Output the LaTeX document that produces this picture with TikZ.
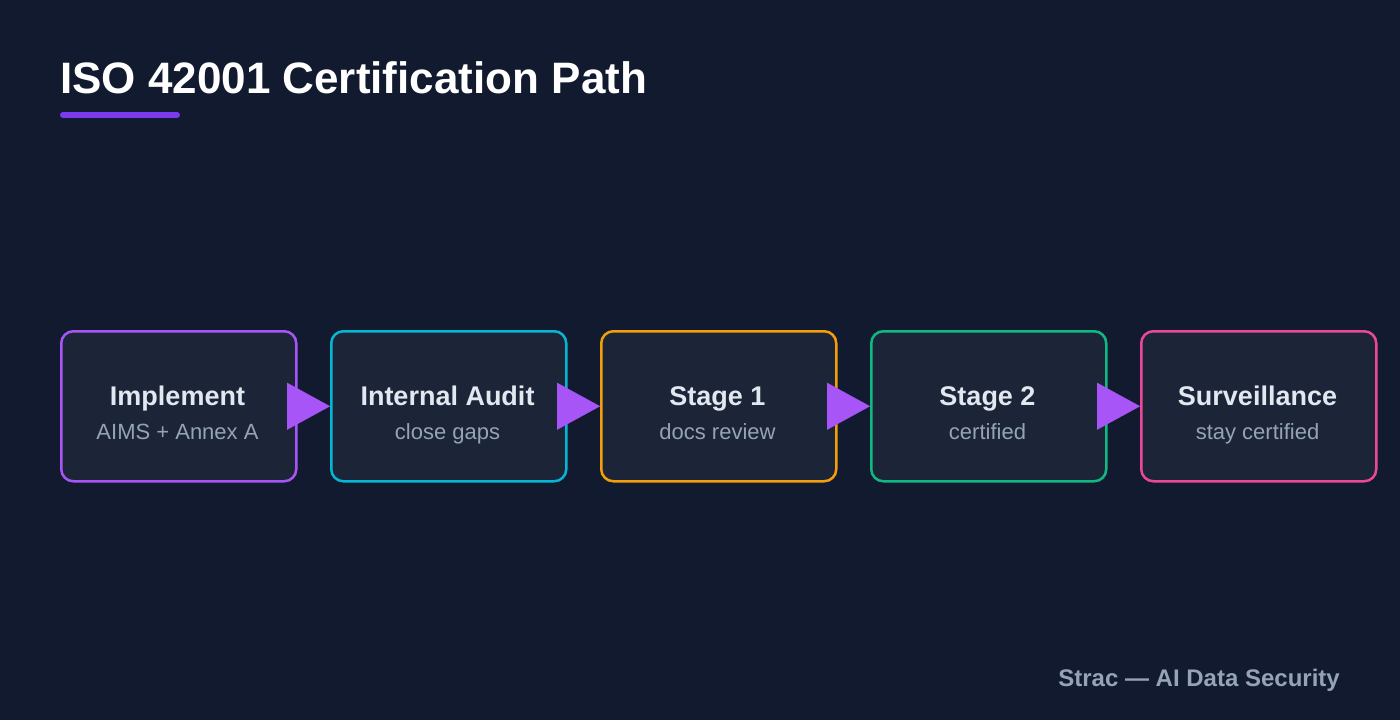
\documentclass[tikz,border=0pt]{standalone}
\usepackage{fontspec}
\setmainfont{Liberation Sans}
\usetikzlibrary{arrows.meta}
\definecolor{bg}{HTML}{111A2E}
\definecolor{boxfill}{HTML}{1C2537}
\definecolor{cP}{HTML}{A855F7}
\definecolor{cC}{HTML}{06B6D4}
\definecolor{cA}{HTML}{F59E0B}
\definecolor{cG}{HTML}{10B981}
\definecolor{cK}{HTML}{EC4899}
\definecolor{bar}{HTML}{7C3AED}
\definecolor{ttl}{HTML}{E2E8F0}
\definecolor{sub}{HTML}{94A3B8}
\begin{document}
\begin{tikzpicture}[x=1pt,y=-1pt,
  step/.style={draw=#1,line width=2.5pt,fill=boxfill,rounded corners=12pt,minimum width=235pt,minimum height=150pt,inner sep=0pt,anchor=north west},
  flow/.style={draw=cP,line width=0.1pt,-{Triangle[length=43pt,width=47pt]},fill=cP}]
\fill[bg] (0,0) rectangle (1400,720);
\useasboundingbox (0,0) rectangle (1400,720);
\node[anchor=base west,inner sep=0pt,text=white,font=\fontsize{44}{52}\selectfont\bfseries] (title) at (60,93) {ISO 42001 Certification Path};
\draw[bar,line width=6pt,line cap=round] (63,115) -- (177,115);
\foreach \n/\x/\c/\t/\s in {a/60/cP/Implement/AIMS + Annex A,b/330/cC/Internal Audit/close gaps,c/600/cA/Stage 1/docs review,d/870/cG/Stage 2/certified,e/1140/cK/Surveillance/stay certified}{
  \node[step=\c] (\n) at (\x,330) {};
  \node[anchor=base,inner sep=0pt,text=ttl,font=\fontsize{27}{32}\selectfont\bfseries] (\n t) at (\x+117.5,405) {\t};
  \node[anchor=base,inner sep=0pt,text=sub,font=\fontsize{22}{26}\selectfont] (\n s) at (\x+117.5,439) {\s};
}
\foreach \p/\q in {a/b,b/c,c/d,d/e}{
  \draw[flow] (\p.east) -- (\q.west);
}
\node[anchor=base east,inner sep=0pt,text=sub,font=\fontsize{24}{28}\selectfont\bfseries] (foot) at (1340,686) {Strac — AI Data Security};
\end{tikzpicture}
\end{document}
